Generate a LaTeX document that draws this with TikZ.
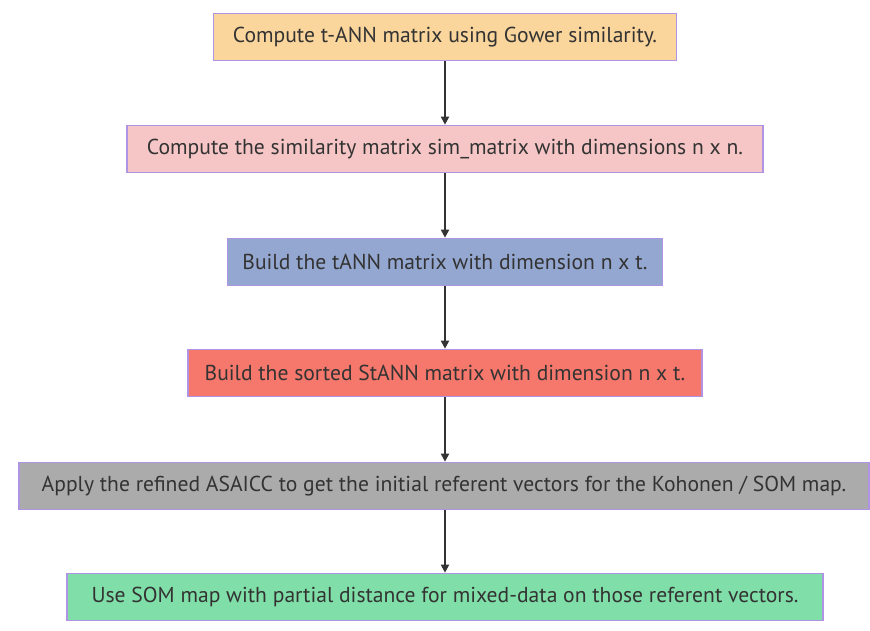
\documentclass[tikz,border=0pt]{standalone}
\usepackage{fontspec}
\setmainfont{PT Sans}
\usetikzlibrary{arrows.meta}
\definecolor{edgepurple}{RGB}{176,148,228}
\definecolor{inkgray}{RGB}{51,51,51}
\definecolor{fillA}{RGB}{250,213,156}
\definecolor{fillB}{RGB}{246,198,198}
\definecolor{fillC}{RGB}{148,167,209}
\definecolor{fillD}{RGB}{246,119,107}
\definecolor{fillE}{RGB}{171,171,171}
\definecolor{fillF}{RGB}{128,223,168}
\tikzset{
  stepbox/.style={draw=edgepurple, line width=1.6pt, minimum height=47pt,
    inner sep=0pt, text=inkgray, font=\fontsize{21.6}{25}\selectfont},
  flow/.style={draw=inkgray, line width=1.8pt, -{Triangle[length=8pt,width=8pt]}}
}
\begin{document}
\begin{tikzpicture}[x=1pt,y=-1pt]
\useasboundingbox (0,0) rectangle (870,631);
\node[stepbox, fill=fillA, minimum width=463pt] (s1) at (445,37)
  {Compute t-ANN matrix using Gower similarity.};
\node[stepbox, fill=fillB, minimum width=636pt] (s2) at (445,149)
  {Compute the similarity matrix sim\_matrix with dimensions n x n.};
\node[stepbox, fill=fillC, minimum width=435pt] (s3) at (445,262)
  {Build the tANN matrix with dimension n x t.};
\node[stepbox, fill=fillD, minimum width=514pt] (s4) at (445,373)
  {Build the sorted StANN matrix with dimension n x t.};
\node[stepbox, fill=fillE, minimum width=850pt] (s5) at (444,486)
  {Apply the refined ASAICC to get the initial referent vectors for the Kohonen / SOM map.};
\node[stepbox, fill=fillF, minimum width=756pt] (s6) at (445,597)
  {Use SOM map with partial distance for mixed-data on those referent vectors.};
\draw[flow] (s1) -- (s2);
\draw[flow] (s2) -- (s3);
\draw[flow] (s3) -- (s4);
\draw[flow] (s4.south) -- (s4.south |- s5.north);
\draw[flow] (s4.south |- s5.south) -- (s4.south |- s6.north);
\end{tikzpicture}
\end{document}
